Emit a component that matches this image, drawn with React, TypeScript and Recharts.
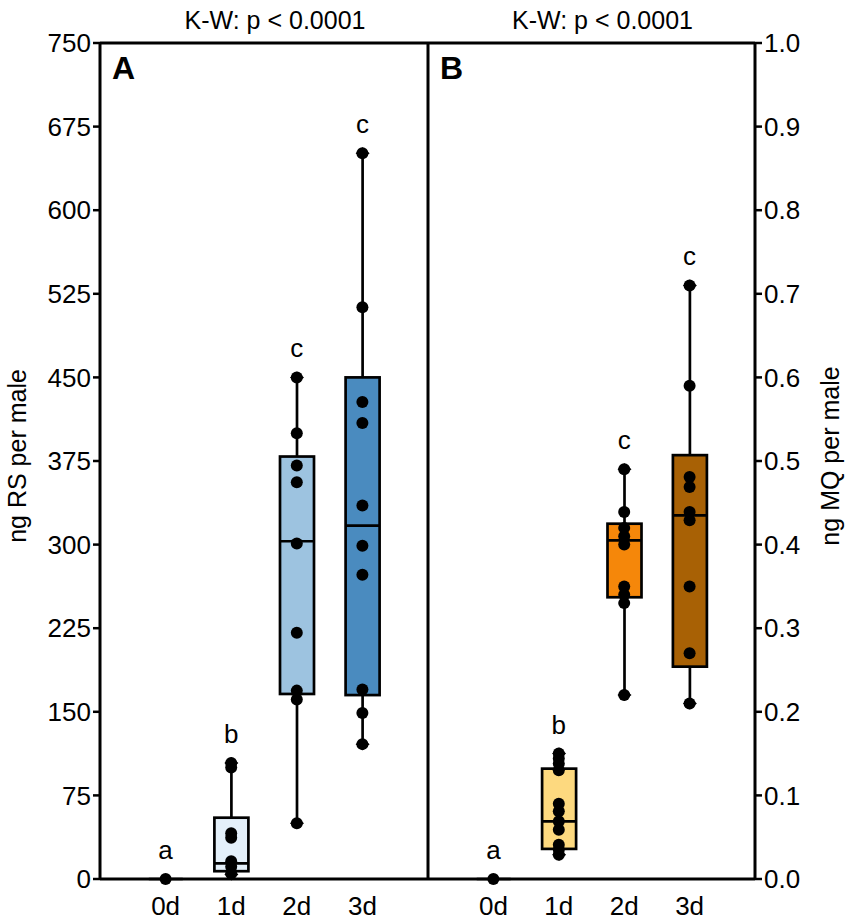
import React from "react";
import { ComposedChart, Bar, Scatter, XAxis, YAxis, ReferenceLine } from "recharts";

const FONT = "Arial, 'Liberation Sans', Helvetica, sans-serif";

// shared categories
const days = ["0d", "1d", "2d", "3d"];
const letters = ["a", "b", "c", "c"];

// panel A: ng RS per male
const rsTicks = [0, 75, 150, 225, 300, 375, 450, 525, 600, 675, 750];
const rsMin = [0, 4, 50, 121];
const rsQ1 = [0, 7, 166, 165];
const rsMedian = [0, 14, 303, 317];
const rsQ3 = [0, 55, 379, 450];
const rsMax = [0, 104, 450, 651];
const rsDots = [
  [0],
  [104, 100, 41, 37, 16, 11, 5],
  [450, 400, 371, 356, 301, 221, 169, 161, 50],
  [651, 513, 428, 409, 335, 299, 273, 170, 149, 121],
];
const rsFills = ["#ffffff", "#e4f0fa", "#9dc3e0", "#4a8bbf"];

// panel B: ng MQ per male
const mqTicks = [0, 0.1, 0.2, 0.3, 0.4, 0.5, 0.6, 0.7, 0.8, 0.9, 1.0];
const mqMin = [0, 0.029, 0.22, 0.21];
const mqQ1 = [0, 0.036, 0.337, 0.254];
const mqMedian = [0, 0.069, 0.405, 0.435];
const mqQ3 = [0, 0.132, 0.425, 0.507];
const mqMax = [0, 0.15, 0.49, 0.71];
const mqDots = [
  [0],
  [0.15, 0.144, 0.138, 0.13, 0.09, 0.081, 0.069, 0.059, 0.041, 0.035, 0.029],
  [0.49, 0.439, 0.42, 0.41, 0.4, 0.35, 0.34, 0.33, 0.22],
  [0.71, 0.59, 0.481, 0.469, 0.439, 0.429, 0.35, 0.27, 0.21],
];
const mqFills = ["#ffffff", "#fdd97f", "#f5870a", "#a86105"];

const BOX_W = 34;
const LINE_W = 2.7;

// box + whiskers drawn inside the [min, max] range bar
const BoxShape = (props: any) => {
  const { x, y, width, height } = props;
  const p = props.payload ?? props;
  const span = p.max - p.min;
  const py = (v: number) => (span === 0 ? y + height : y + (height * (p.max - v)) / span);
  const cx = x + width / 2;
  const left = cx - BOX_W / 2;
  if (span === 0) {
    return <line x1={left} x2={left + BOX_W} y1={py(0)} y2={py(0)} stroke="#000" strokeWidth={LINE_W} />;
  }
  const diamond = (yy: number) =>
    `${cx - 7},${yy} ${cx},${yy - 6} ${cx + 7},${yy} ${cx},${yy + 6}`;
  return (
    <g>
      <line x1={cx} x2={cx} y1={py(p.max)} y2={py(p.q3)} stroke="#000" strokeWidth={LINE_W} />
      <line x1={cx} x2={cx} y1={py(p.q1)} y2={py(p.min)} stroke="#000" strokeWidth={LINE_W} />
      <polygon points={diamond(py(p.max))} fill="#000" />
      <polygon points={diamond(py(p.min))} fill="#000" />
      <rect
        x={left}
        y={py(p.q3)}
        width={BOX_W}
        height={py(p.q1) - py(p.q3)}
        fill={p.fill}
        stroke="#000"
        strokeWidth={LINE_W}
      />
      <line x1={left} x2={left + BOX_W} y1={py(p.median)} y2={py(p.median)} stroke="#000" strokeWidth={LINE_W} />
    </g>
  );
};

const Dot = (props: any) => <circle cx={props.cx} cy={props.cy} r={6} fill="#000" />;

const Letter = (props: any) => (
  <text
    x={props.cx}
    y={props.cy - 20}
    textAnchor="middle"
    fontSize={26}
    fontFamily={FONT}
    fill="#000"
  >
    {props.payload.t}
  </text>
);

const tickStyle = { fontSize: 26, fill: "#000", fontFamily: FONT };

const topLabel = (panel: string) => (props: any) => {
  const vb = props.viewBox;
  return (
    <g>
      <text
        x={vb.x + vb.width / 2 + 11}
        y={vb.y - 14}
        textAnchor="middle"
        fontSize={25}
        fontFamily={FONT}
        fill="#000"
      >
        K-W: p &lt; 0.0001
      </text>
      <text x={vb.x + 12} y={vb.y + 36} fontSize={32} fontWeight="bold" fontFamily={FONT} fill="#000">
        {panel}
      </text>
    </g>
  );
};

const sideLabel = (text: string, dx: number) => (props: any) => {
  const vb = props.viewBox;
  const bx = vb.x + dx;
  const cy = vb.y + vb.height / 2 - 5;
  return (
    <text
      x={bx}
      y={cy}
      transform={`rotate(-90 ${bx} ${cy})`}
      textAnchor="middle"
      fontSize={25}
      fontFamily={FONT}
      fill="#000"
    >
      {text}
    </text>
  );
};

function buildRows(min: number[], q1: number[], med: number[], q3: number[], max: number[], fills: string[]) {
  return days.map((d, i) => ({
    x: i,
    range: [min[i], max[i]],
    min: min[i],
    q1: q1[i],
    median: med[i],
    q3: q3[i],
    max: max[i],
    fill: fills[i],
  }));
}

function buildDots(dots: number[][]) {
  return dots.flatMap((vals, i) => vals.map((v) => ({ x: i, y: v })));
}

function buildLetters(max: number[]) {
  return days.map((d, i) => ({ x: i, y: max[i], t: letters[i] }));
}

const axisLine = { stroke: "#000", strokeWidth: 3 };
const tickLine = { stroke: "#000", strokeWidth: 2.5 };

function Panel(props: {
  side: "left" | "right";
  panel: string;
  yLabel: string;
  ticks: number[];
  rows: any[];
  dots: any[];
  lets: any[];
  fmt: (v: number) => string;
}) {
  const { side, ticks } = props;
  const isLeft = side === "left";
  return (
    <ComposedChart
      width={isLeft ? 430 : 426}
      height={921}
      data={props.rows}
      margin={{ top: 43, right: isLeft ? 2 : 0, bottom: 0, left: 0 }}
    >
      <XAxis
        type="number"
        dataKey="x"
        domain={[-1, 4]}
        ticks={[0, 1, 2, 3]}
        tickFormatter={(v: number) => days[v]}
        height={42}
        tickLine={false}
        tickSize={16}
        axisLine={axisLine}
        tick={tickStyle}
        allowDecimals={false}
      />
      <YAxis
        type="number"
        orientation={side}
        width={isLeft ? 100 : 99}
        domain={[ticks[0], ticks[ticks.length - 1]]}
        ticks={ticks}
        interval={0}
        tickFormatter={props.fmt}
        tickSize={7}
        tickLine={tickLine}
        axisLine={axisLine}
        tick={tickStyle}
        label={sideLabel(props.yLabel, isLeft ? 26 : 84)}
      />
      <ReferenceLine
        y={ticks[ticks.length - 1]}
        stroke="#000"
        strokeWidth={3}
        label={topLabel(props.panel)}
      />
      {isLeft && <ReferenceLine x={4} stroke="#000" strokeWidth={3} />}
      <Bar dataKey="range" barSize={BOX_W} shape={<BoxShape />} isAnimationActive={false} />
      <Scatter data={props.dots} dataKey="y" shape={<Dot />} isAnimationActive={false} />
      <Scatter data={props.lets} dataKey="y" shape={<Letter />} isAnimationActive={false} />
    </ComposedChart>
  );
}

export default function App() {
  return (
    <div
      style={{
        position: "absolute",
        left: 0,
        top: 0,
        width: 854,
        height: 921,
        background: "#fff",
        fontFamily: FONT,
      }}
    >
      <div style={{ position: "absolute", left: 0, top: 0 }}>
        <Panel
          side="left"
          panel="A"
          yLabel="ng RS per male"
          ticks={rsTicks}
          rows={buildRows(rsMin, rsQ1, rsMedian, rsQ3, rsMax, rsFills)}
          dots={buildDots(rsDots)}
          lets={buildLetters(rsMax)}
          fmt={(v) => String(v)}
        />
      </div>
      <div style={{ position: "absolute", left: 428, top: 0 }}>
        <Panel
          side="right"
          panel="B"
          yLabel="ng MQ per male"
          ticks={mqTicks}
          rows={buildRows(mqMin, mqQ1, mqMedian, mqQ3, mqMax, mqFills)}
          dots={buildDots(mqDots)}
          lets={buildLetters(mqMax)}
          fmt={(v) => v.toFixed(1)}
        />
      </div>
    </div>
  );
}
